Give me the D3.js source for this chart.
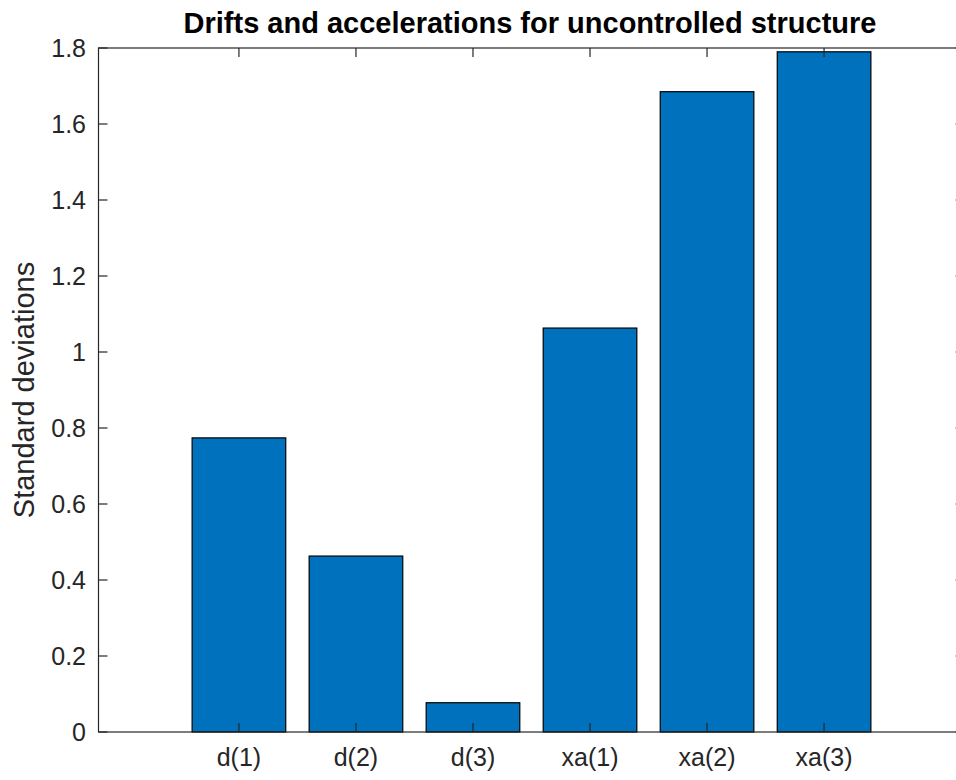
<!DOCTYPE html>
<html><head><meta charset="utf-8">
<script src="https://cdn.jsdelivr.net/npm/d3@7"></script>
<style>body{margin:0;background:#fff;overflow:hidden}svg{display:block}text{font-family:"Liberation Sans",Arial,Helvetica,sans-serif}</style>
</head><body>
<svg id="c" width="956" height="780"></svg>
<script>
const categories = ["d(1)","d(2)","d(3)","xa(1)","xa(2)","xa(3)"];
const values = [0.774, 0.463, 0.077, 1.063, 1.685, 1.790];
const yTicks = [0,0.2,0.4,0.6,0.8,1,1.2,1.4,1.6,1.8];
const titleText = "Drifts and accelerations for uncontrolled structure";
const yLabel = "Standard deviations";

const svg = d3.select("#c");
const L = 98.5, R = 964.5, T = 48, B = 732;
const x = d3.scaleLinear().domain([-0.2, 7.2]).range([L, R]);
const y = d3.scaleLinear().domain([0, 1.8]).range([B, T]);
const axisColor = "#262626";
const bw = 0.8 * (x(1) - x(0));

svg.append("g").selectAll("rect").data(values).join("rect")
  .attr("x", (d,i) => x(i+1) - bw/2)
  .attr("y", d => y(d))
  .attr("width", bw)
  .attr("height", d => y(0) - y(d))
  .attr("fill", "#0072BD")
  .attr("stroke", "#000")
  .attr("stroke-width", 1.2);

const tl = 9;
const g = svg.append("g").attr("stroke", axisColor).attr("stroke-width", 1.2).attr("fill","none");
g.append("rect").attr("x", L).attr("y", T).attr("width", R-L).attr("height", B-T);
categories.forEach((c,i) => {
  const xx = x(i+1);
  g.append("line").attr("x1", xx).attr("x2", xx).attr("y1", B).attr("y2", B-tl);
  g.append("line").attr("x1", xx).attr("x2", xx).attr("y1", T).attr("y2", T+tl);
});
yTicks.forEach(t => {
  const yy = y(t);
  g.append("line").attr("x1", L).attr("x2", L+tl).attr("y1", yy).attr("y2", yy);
  g.append("line").attr("x1", R).attr("x2", R-tl).attr("y1", yy).attr("y2", yy);
});

svg.append("g").selectAll("text").data(yTicks).join("text")
  .attr("x", 86).attr("y", d => y(d)).attr("dy", "0.36em")
  .attr("text-anchor", "end").attr("font-size", 25).attr("fill", axisColor)
  .text(d => d3.format("~g")(d));

svg.append("g").selectAll("text").data(categories).join("text")
  .attr("x", (d,i) => x(i+1)).attr("y", 766)
  .attr("text-anchor", "middle").attr("font-size", 25).attr("fill", axisColor)
  .text(d => d);

svg.append("text")
  .attr("transform", `translate(34,${(T+B)/2}) rotate(-90)`)
  .attr("text-anchor", "middle").attr("font-size", 29).attr("fill", axisColor)
  .text(yLabel);

svg.append("text")
  .attr("x", 530).attr("y", 33)
  .attr("text-anchor", "middle").attr("font-size", 29).attr("font-weight", "bold").attr("fill", "#000")
  .text(titleText);
</script>
</body></html>
